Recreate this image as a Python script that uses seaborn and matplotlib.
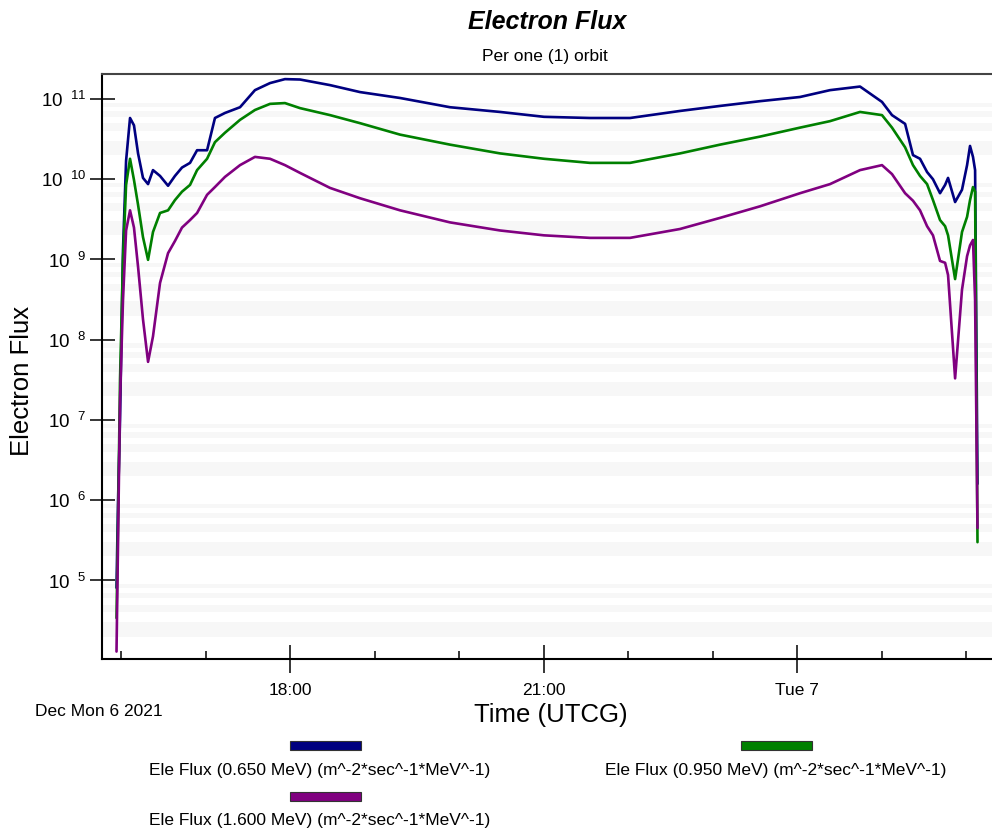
#!/usr/bin/env python3
# -*- coding: utf-8 -*-

import math
import pandas as pd
import matplotlib
matplotlib.use("Agg")
import matplotlib.pyplot as plt
import matplotlib.ticker as mticker
from matplotlib.patches import Rectangle
import seaborn as sns

# -----------------------------------------------------------------------------
# Data
# -----------------------------------------------------------------------------
times = [
    "2021-12-06 15:56:48", "2021-12-06 15:57:54", "2021-12-06 15:59:18", "2021-12-06 16:01:24",
    "2021-12-06 16:03:36", "2021-12-06 16:06:24", "2021-12-06 16:09:12", "2021-12-06 16:12:06",
    "2021-12-06 16:15:36", "2021-12-06 16:19:12", "2021-12-06 16:22:42", "2021-12-06 16:27:42",
    "2021-12-06 16:33:24", "2021-12-06 16:38:18", "2021-12-06 16:43:18", "2021-12-06 16:49:00",
    "2021-12-06 16:54:00", "2021-12-06 17:01:06", "2021-12-06 17:06:42", "2021-12-06 17:13:48",
    "2021-12-06 17:24:30", "2021-12-06 17:35:06", "2021-12-06 17:45:48", "2021-12-06 17:56:24",
    "2021-12-06 18:07:06", "2021-12-06 18:28:24", "2021-12-06 18:49:42", "2021-12-06 19:18:06",
    "2021-12-06 19:53:36", "2021-12-06 20:29:06", "2021-12-06 21:00:18", "2021-12-06 21:33:00",
    "2021-12-06 22:01:24", "2021-12-06 22:36:54", "2021-12-06 23:05:18", "2021-12-06 23:33:42",
    "2021-12-07 00:02:06", "2021-12-07 00:23:24", "2021-12-07 00:44:42", "2021-12-07 01:00:18",
    "2021-12-07 01:07:24", "2021-12-07 01:16:42", "2021-12-07 01:22:18", "2021-12-07 01:27:18",
    "2021-12-07 01:32:18", "2021-12-07 01:36:30", "2021-12-07 01:41:30", "2021-12-07 01:45:06",
    "2021-12-07 01:47:12", "2021-12-07 01:52:12", "2021-12-07 01:57:06", "2021-12-07 02:00:42",
    "2021-12-07 02:02:48", "2021-12-07 02:04:54", "2021-12-07 02:06:24", "2021-12-07 02:08:06",
]

flux_0650 = [
    8.1e4, 1.0e6, 1.0e7, 1.3e9, 1.7e10, 5.8e10, 4.7e10, 2.1e10,
    1.04e10, 8.7e9, 1.3e10, 1.1e10, 8.3e9, 1.1e10, 1.4e10, 1.6e10,
    2.3e10, 2.3e10, 5.8e10, 6.7e10, 7.9e10, 1.29e11, 1.58e11, 1.77e11,
    1.75e11, 1.49e11, 1.22e11, 1.03e11, 7.9e10, 6.9e10, 6.0e10, 5.8e10,
    5.8e10, 7.1e10, 8.2e10, 9.4e10, 1.06e11, 1.29e11, 1.43e11, 9.2e10,
    6.3e10, 4.9e10, 2.0e10, 1.8e10, 1.23e10, 1.0e10, 6.7e9, 8.5e9,
    1.04e10, 5.2e9, 7.4e9, 1.5e10, 2.6e10, 1.9e10, 1.3e10, 1.6e6,
]

flux_0950 = [
    3.4e4, 5.7e5, 3.2e7, 9.9e8, 8.5e9, 1.8e10, 9.8e9, 4.8e9,
    1.9e9, 9.9e8, 2.2e9, 3.8e9, 4.1e9, 5.5e9, 7.0e9, 8.5e9,
    1.3e10, 1.8e10, 2.9e10, 3.8e10, 5.5e10, 7.3e10, 8.7e10, 8.9e10,
    7.7e10, 6.3e10, 5.0e10, 3.6e10, 2.7e10, 2.1e10, 1.8e10, 1.6e10,
    1.6e10, 2.1e10, 2.7e10, 3.4e10, 4.4e10, 5.3e10, 6.9e10, 6.3e10,
    4.4e10, 2.5e10, 1.5e10, 1.1e10, 8.7e9, 5.5e9, 3.1e9, 2.6e9,
    2.0e9, 5.7e8, 2.2e9, 3.4e9, 5.5e9, 8.0e9, 7.0e9, 3.0e5,
]

flux_1600 = [
    1.3e4, 3.2e5, 1.8e7, 3.1e8, 2.3e9, 4.1e9, 2.5e9, 8.1e8,
    1.8e8, 5.3e7, 1.1e8, 5.1e8, 1.2e9, 1.7e9, 2.5e9, 3.1e9,
    3.8e9, 6.4e9, 8.0e9, 1.07e10, 1.5e10, 1.9e10, 1.8e10, 1.5e10,
    1.2e10, 7.8e9, 5.8e9, 4.1e9, 2.9e9, 2.3e9, 2.0e9, 1.86e9,
    1.86e9, 2.4e9, 3.3e9, 4.6e9, 6.7e9, 8.7e9, 1.3e10, 1.5e10,
    1.16e10, 6.7e9, 5.4e9, 4.1e9, 2.6e9, 2.0e9, 9.6e8, 9.1e8,
    6.4e8, 3.3e7, 4.2e8, 1.1e9, 1.5e9, 1.75e9, 3.1e8, 4.5e5,
]

series_labels = [
    "Ele Flux (0.650 MeV) (m^-2*sec^-1*MeV^-1)",
    "Ele Flux (0.950 MeV) (m^-2*sec^-1*MeV^-1)",
    "Ele Flux (1.600 MeV) (m^-2*sec^-1*MeV^-1)",
]
series_colors = ["#000080", "#008000", "#800080"]

y_tick_exponents = [5, 6, 7, 8, 9, 10, 11]
x_major_ticks = ["2021-12-06 18:00", "2021-12-06 21:00", "2021-12-07 00:00"]
x_major_labels = ["18:00", "21:00", "Tue 7"]
x_minor_ticks = ["2021-12-06 16:00", "2021-12-06 17:00", "2021-12-06 19:00",
                 "2021-12-06 20:00", "2021-12-06 22:00", "2021-12-06 23:00",
                 "2021-12-07 01:00", "2021-12-07 02:00"]

# -----------------------------------------------------------------------------
# Style
# -----------------------------------------------------------------------------
sns.set_style("white")
plt.rcParams["font.family"] = ["Liberation Sans", "DejaVu Sans"]
plt.rcParams["mathtext.fontset"] = "custom"
plt.rcParams["mathtext.rm"] = "Liberation Sans"
for key in ["text.color", "axes.labelcolor", "xtick.color", "ytick.color"]:
    plt.rcParams[key] = "black"


def power_label(v, pos):
    return r"$\mathregular{10^{\ \ %d}}$" % int(round(math.log10(v)))


def main():
    frames = []
    for label, values in zip(series_labels, [flux_0650, flux_0950, flux_1600]):
        frames.append(pd.DataFrame({
            "time": pd.to_datetime(times),
            "flux": values,
            "series": label,
        }))
    df = pd.concat(frames, ignore_index=True)

    fig = plt.figure(figsize=(9.92, 8.35), dpi=100)
    ax = fig.add_axes([102 / 992, 1 - 659 / 835, 1 - 102 / 992, (659 - 74) / 835])
    ax.set_yscale("log")

    # faint horizontal banding of the plot background
    for n in range(4, 12):
        for k in (2, 4, 6, 8):
            ax.axhspan(k * 10 ** n, (k + 1) * 10 ** n, color="#f7f7f7", lw=0, zorder=0)

    sns.lineplot(
        data=df, x="time", y="flux", hue="series",
        palette=dict(zip(series_labels, series_colors)),
        linewidth=1.9, legend=False, ax=ax, zorder=3,
    )

    ax.set_xlim(pd.Timestamp("2021-12-06 15:46:30"), pd.Timestamp("2021-12-07 02:18:24"))
    ax.set_ylim(1.05e4, 2.05e11)

    # y axis: 10^n labels
    ax.yaxis.set_major_locator(mticker.FixedLocator([10.0 ** e for e in y_tick_exponents]))
    ax.yaxis.set_minor_locator(mticker.NullLocator())
    ax.yaxis.set_major_formatter(mticker.FuncFormatter(power_label))
    ax.tick_params(axis="y", which="major", left=True, direction="inout", length=18,
                   width=1.1, labelsize=13.5, pad=2)

    # x axis
    ax.set_xticks(pd.to_datetime(x_major_ticks))
    ax.set_xticklabels(x_major_labels)
    ax.set_xticks(pd.to_datetime(x_minor_ticks), minor=True)
    ax.tick_params(axis="x", which="major", bottom=True, direction="inout", length=20,
                   width=1.1, labelsize=12.5, pad=7)
    ax.tick_params(axis="x", which="minor", bottom=True, direction="in", length=6, width=1.1)
    ax.set_xlabel("")
    ax.set_ylabel("")

    for side in ["left", "bottom"]:
        ax.spines[side].set_color("black")
        ax.spines[side].set_linewidth(1.5)
    ax.spines["top"].set_color("#444444")
    ax.spines["top"].set_linewidth(1.5)
    ax.spines["right"].set_visible(False)

    # titles and axis labels
    fig.text(547 / 992, 1 - 22 / 835, "Electron Flux", fontsize=18, fontweight="bold",
             fontstyle="italic", ha="center", va="center")
    fig.text(545 / 992, 1 - 56 / 835, "Per one (1) orbit", fontsize=12.5, ha="center", va="center")
    fig.text(22 / 992, 1 - 381 / 835, "Electron Flux", fontsize=18.5, rotation=90,
             ha="center", va="center")
    fig.text(551 / 992, 1 - 715 / 835, "Time (UTCG)", fontsize=18.5, ha="center", va="center")
    fig.text(35 / 992, 1 - 711 / 835, "Dec Mon 6 2021", fontsize=12.5, ha="left", va="center")

    # legend: colour bar above each label
    legend_slots = [(325, 745, 320, 771), (776, 745, 776, 771), (325, 796, 320, 821)]
    for (bx, by, tx, ty), label, color in zip(legend_slots, series_labels, series_colors):
        fig.add_artist(Rectangle(((bx - 35) / 992, 1 - (by + 4.5) / 835), 71 / 992, 9 / 835,
                                 transform=fig.transFigure, facecolor=color,
                                 edgecolor="#333333", lw=0.8))
        fig.text(tx / 992, 1 - ty / 835, label, fontsize=12.5, ha="center", va="center")

    fig.savefig("out.png", dpi=100)
    plt.close(fig)


if __name__ == "__main__":
    main()
